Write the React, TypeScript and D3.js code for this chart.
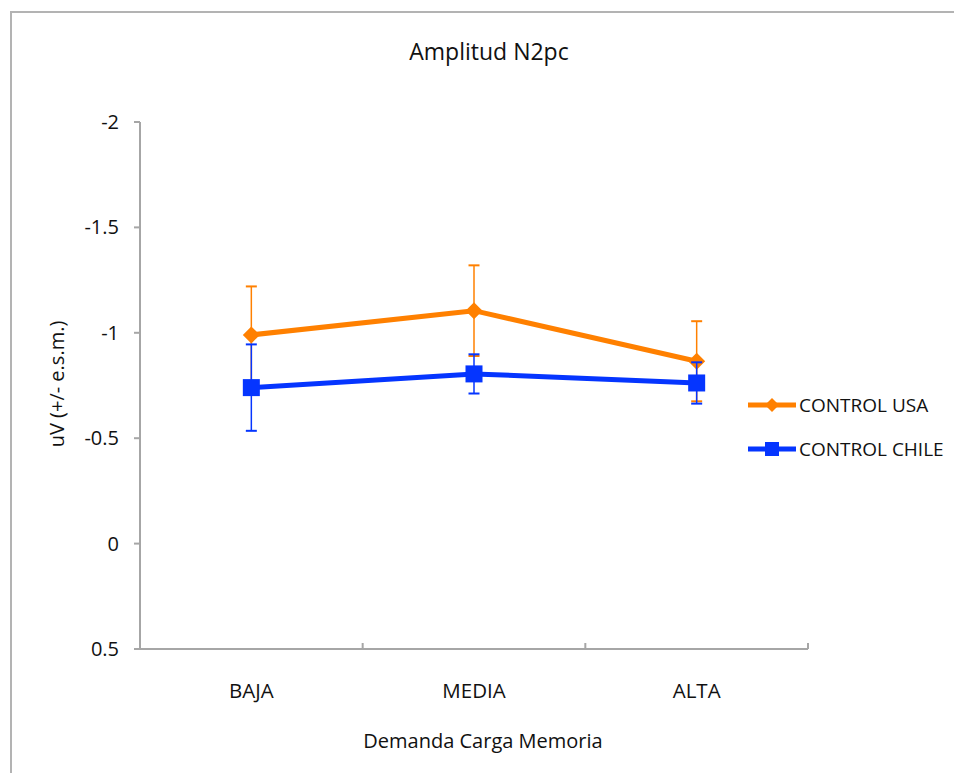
import React from "react";
import * as d3 from "d3";

const categories = ["BAJA", "MEDIA", "ALTA"];
const usaValues = [-0.99, -1.105, -0.865];
const usaErrors = [0.23, 0.215, 0.19];
const chileValues = [-0.74, -0.805, -0.762];
const chileErrors = [0.205, 0.093, 0.098];
const yTicks = [-2, -1.5, -1, -0.5, 0, 0.5];

const series = [
  { name: "CONTROL USA", values: usaValues, errors: usaErrors, color: "#ff8000", shape: "diamond" },
  { name: "CONTROL CHILE", values: chileValues, errors: chileErrors, color: "#0535ff", shape: "square" },
];

const FONT = "'Open Sans', sans-serif";

export default function App() {
  const W = 954, H = 773;
  const left = 140, right = 808, top = 122, bottom = 649;
  const x = d3.scaleBand().domain(categories).range([left, right]).padding(0);
  const y = d3.scaleLinear().domain([-2, 0.5]).range([top, bottom]);
  const cx = (c: string) => (x(c) as number) + x.bandwidth() / 2;
  const line = d3.line<[number, number]>().x(d => d[0]).y(d => d[1]);
  const axisColor = "#a6a6a6";
  const bounds = [left, ...categories.map(c => (x(c) as number) + x.bandwidth())];

  const marker = (shape: string, px: number, py: number, color: string, key: string) =>
    shape === "diamond" ? (
      <path key={key} d={`M${px},${py - 8.5}L${px + 8.5},${py}L${px},${py + 8.5}L${px - 8.5},${py}Z`} fill={color} />
    ) : (
      <rect key={key} x={px - 8.5} y={py - 8.5} width={17} height={17} fill={color} />
    );

  return (
    <svg width={W} height={H} style={{ position: "absolute", left: 0, top: 0, background: "#fff" }}>
      <rect x={11} y={12} width={1200} height={1200} fill="#fff" stroke="#b3b3b3" strokeWidth={2} />
      <text x={489} y={60} textAnchor="middle" fontFamily={FONT} fontSize={23} fill="#111">Amplitud N2pc</text>

      {/* y axis */}
      <line x1={left} x2={left} y1={top} y2={bottom} stroke={axisColor} strokeWidth={2} />
      {yTicks.map(t => (
        <g key={t}>
          <line x1={left - 6} x2={left} y1={y(t)} y2={y(t)} stroke={axisColor} strokeWidth={2} />
          <text x={119} y={y(t)} dy="0.35em" textAnchor="end" fontFamily={FONT} fontSize={20} fill="#111">{String(t)}</text>
        </g>
      ))}
      {/* x axis */}
      <line x1={left} x2={right} y1={bottom} y2={bottom} stroke={axisColor} strokeWidth={2} />
      {bounds.slice(1).map((b, i) => (
        <line key={i} x1={b} x2={b} y1={bottom - 6} y2={bottom} stroke={axisColor} strokeWidth={2} />
      ))}
      {categories.map(c => (
        <text key={c} x={cx(c)} y={698} textAnchor="middle" fontFamily={FONT} fontSize={20.5} fill="#111">{c}</text>
      ))}
      <text x={483} y={748} textAnchor="middle" fontFamily={FONT} fontSize={20} fill="#111">Demanda Carga Memoria</text>
      <text transform={`translate(64,384) rotate(-90)`} textAnchor="middle" fontFamily={FONT} fontSize={20} fill="#111">uV (+/- e.s.m.)</text>

      {series.map(s => (
        <g key={s.name}>
          <path d={line(categories.map((c, i) => [cx(c), y(s.values[i])]) as [number, number][]) || ""} fill="none" stroke={s.color} strokeWidth={5} />
          {categories.map((c, i) => {
            const px = cx(c);
            const y1 = y(s.values[i] - s.errors[i]);
            const y2 = y(s.values[i] + s.errors[i]);
            return (
              <g key={c}>
                <line x1={px} x2={px} y1={y1} y2={y2} stroke={s.color} strokeWidth={1.5} />
                <line x1={px - 5.5} x2={px + 5.5} y1={y1} y2={y1} stroke={s.color} strokeWidth={2} />
                <line x1={px - 5.5} x2={px + 5.5} y1={y2} y2={y2} stroke={s.color} strokeWidth={2} />
              </g>
            );
          })}
          {categories.map((c, i) => marker(s.shape, cx(c), y(s.values[i]), s.color, c))}
        </g>
      ))}

      {/* legend */}
      {series.map((s, i) => {
        const ly = 405 + i * 44;
        return (
          <g key={s.name}>
            <line x1={748} x2={796} y1={ly} y2={ly} stroke={s.color} strokeWidth={5} />
            {s.shape === "diamond" ? (
              <path d={`M772,${ly - 7}L779,${ly}L772,${ly + 7}L765,${ly}Z`} fill={s.color} />
            ) : (
              <rect x={765} y={ly - 7} width={14} height={14} fill={s.color} />
            )}
            <text x={799} y={ly} dy="0.35em" fontFamily={FONT} fontSize={19} fill="#111">{s.name}</text>
          </g>
        );
      })}
    </svg>
  );
}
